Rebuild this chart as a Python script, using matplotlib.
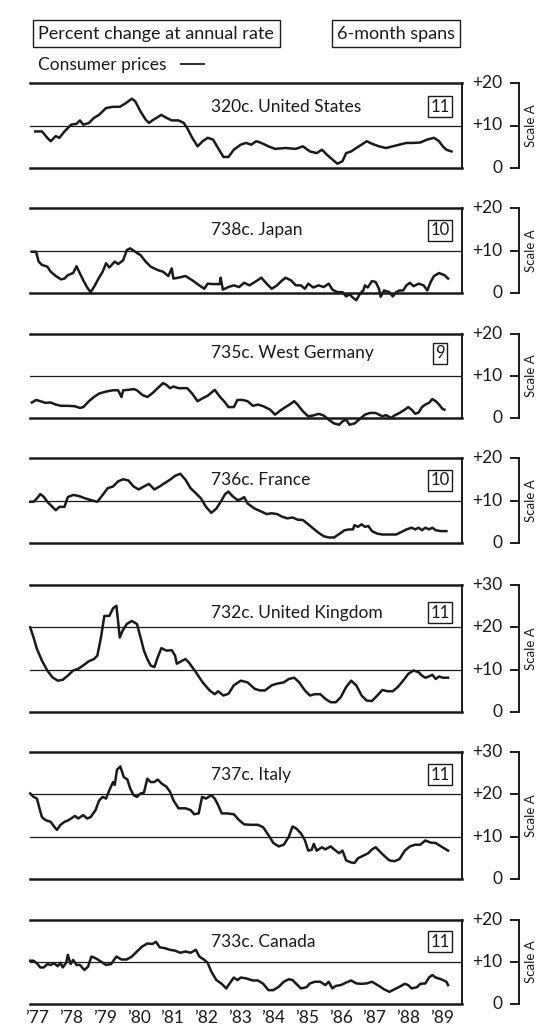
import matplotlib
matplotlib.use("Agg")
import matplotlib.pyplot as plt
import numpy as np
from matplotlib.lines import Line2D

plt.rcParams["font.family"] = ["Lato", "DejaVu Sans"]

# ---- data (months counted from Jan 1977, percent change at annual rate) ----
titles = ["320c. United States", "738c. Japan", "735c. West Germany", "736c. France",
          "732c. United Kingdom", "737c. Italy", "733c. Canada"]
codes = ["11", "10", "9", "10", "11", "11", "11"]
scale_tops = [20, 20, 20, 20, 30, 30, 20]
years = list(range(1977, 1990))
year_labels = ["\u2019%02d" % (y % 100) for y in years]

us_months = [-0.8, 1.6, 3.5, 4.7, 6.5, 7.8, 9.6, 12.0, 13.9, 15.1,
             16.3, 18.3, 20.1, 21.9, 24.4, 26.9, 29.3, 31.1, 33.6, 34.8,
             36.7, 38.5, 39.7, 40.9, 44.1, 45.9, 47.8, 50.2, 52.1, 53.3,
             55.1, 57.0, 58.8, 60.6, 62.5, 64.3, 66.2, 68.0, 69.9, 72.4,
             74.2, 76.1, 77.9, 79.7, 82.2, 84.6, 88.3, 92.0, 94.5, 97.0,
             99.4, 101.3, 103.1, 105.0, 106.8, 108.6, 109.9, 111.7, 113.5, 115.4,
             117.2, 119.1, 121.6, 124.1, 126.5, 128.9, 131.4, 133.9, 136.3, 138.8,
             141.2, 143.0, 144.3, 145.6, 147.4]
us_values = [8.6, 8.6, 7.1, 6.3, 7.5, 7.1, 8.6, 10.2, 10.4, 11.2,
             10.2, 10.6, 11.8, 12.5, 14.1, 14.4, 14.4, 15.1, 16.3, 15.7,
             13.3, 11.4, 10.6, 11.2, 12.5, 11.8, 11.2, 11.2, 10.6, 9.4,
             7.1, 5.1, 6.3, 7.1, 6.7, 4.7, 2.6, 2.6, 4.3, 5.5,
             5.9, 5.5, 6.3, 5.9, 5.1, 4.5, 4.7, 4.5, 5.1, 3.9,
             3.5, 4.3, 3.1, 2.0, 1.0, 1.6, 3.5, 3.9, 4.7, 5.5,
             6.3, 5.7, 5.1, 4.7, 5.1, 5.5, 5.9, 5.9, 6.0, 6.7,
             7.1, 6.3, 5.1, 4.3, 3.9]

jp_months = [-2.0, -0.5, 0.4, 1.6, 3.5, 4.7, 6.5, 8.4, 9.6, 10.8,
             12.7, 13.9, 15.1, 16.3, 17.6, 18.9, 20.1, 21.9, 23.2, 24.4,
             25.6, 27.5, 28.7, 30.5, 31.8, 33.0, 34.8, 36.7, 38.5, 40.3,
             42.8, 44.7, 46.6, 47.8, 48.4, 50.2, 52.7, 55.1, 57.6, 59.4,
             60.6, 62.5, 64.9, 65.2, 66.0, 68.0, 69.9, 71.8, 73.6, 75.5,
             77.9, 79.7, 81.6, 83.4, 85.3, 86.5, 88.3, 90.2, 92.0, 93.8,
             95.2, 96.4, 98.2, 100.1, 101.9, 103.7, 105.0, 106.8, 108.6, 109.9,
             111.1, 112.3, 113.5, 114.8, 116.0, 116.6, 117.6, 119.1, 120.4, 121.6,
             122.2, 123.4, 125.3, 126.5, 127.7, 128.9, 130.2, 131.4, 132.6, 133.9,
             135.7, 137.5, 138.8, 140.0, 141.2, 143.0, 144.9, 146.2]
jp_values = [9.7, 9.7, 7.4, 6.6, 6.2, 5.0, 4.0, 3.2, 3.4, 4.2,
             4.7, 6.3, 4.6, 3.0, 1.4, 0.2, 1.4, 3.6, 5.0, 7.0,
             6.0, 7.4, 6.8, 7.7, 10.1, 10.5, 9.7, 8.9, 7.4, 6.2,
             5.4, 5.0, 4.0, 5.8, 3.4, 3.6, 4.0, 3.0, 1.8, 1.0,
             2.2, 2.1, 2.1, 3.6, 0.8, 1.4, 1.8, 1.4, 2.4, 1.8,
             2.8, 3.6, 2.2, 1.0, 1.8, 2.6, 3.6, 3.0, 1.8, 1.8,
             1.0, 2.2, 1.3, 1.8, 1.4, 2.2, 0.8, 0.2, 0.2, -0.8,
             -0.3, -1.1, -1.7, -0.2, 0.6, 1.8, 1.3, 2.8, 2.6, 1.0,
             -0.9, 0.6, 0.2, -0.8, 0.2, 0.6, 0.6, 1.8, 2.4, 1.6,
             2.2, 1.8, 0.6, 2.6, 4.0, 4.7, 4.2, 3.4]

wg_months = [-2.0, -0.5, 1.0, 2.9, 4.7, 6.5, 8.4, 10.8, 13.3, 15.1,
             16.3, 18.3, 20.1, 21.9, 24.4, 26.9, 28.7, 29.9, 30.5, 32.4,
             34.2, 35.4, 37.3, 39.1, 40.9, 42.8, 44.7, 45.9, 47.2, 48.4,
             50.2, 53.3, 55.1, 57.0, 58.8, 60.6, 63.1, 64.9, 66.8, 68.0,
             69.9, 71.2, 73.0, 74.8, 76.7, 78.5, 80.4, 82.8, 84.6, 86.5,
             88.3, 90.2, 91.4, 92.6, 94.5, 96.4, 98.2, 100.1, 101.9, 103.7,
             105.6, 107.4, 108.6, 109.9, 111.1, 112.9, 114.8, 116.6, 118.4, 120.4,
             121.6, 122.8, 124.1, 125.9, 127.1, 128.9, 130.8, 132.0, 133.2, 134.5,
             135.7, 136.9, 138.1, 139.4, 140.6, 141.8, 143.0, 144.3, 144.9]
wg_values = [3.7, 4.3, 4.0, 3.6, 3.7, 3.2, 2.9, 2.9, 2.8, 2.4,
             2.6, 4.0, 5.0, 5.8, 6.3, 6.6, 6.6, 5.0, 6.6, 6.7,
             6.9, 6.6, 5.5, 5.0, 5.9, 7.1, 8.3, 7.9, 7.1, 7.5,
             7.1, 7.1, 5.8, 4.0, 4.7, 5.3, 6.7, 5.1, 3.7, 2.6,
             2.6, 4.3, 4.3, 4.0, 2.9, 3.2, 2.8, 2.0, 0.8, 1.8,
             2.6, 3.4, 4.0, 3.2, 1.6, 0.4, 0.6, 1.0, 0.6, -0.4,
             -1.3, -1.6, -0.8, -0.4, -1.6, -1.3, -0.2, 0.8, 1.2, 1.2,
             0.8, 0.4, 0.7, 0.0, 0.6, 1.2, 2.0, 2.6, 2.0, 1.0,
             1.3, 2.6, 3.2, 3.6, 4.5, 4.0, 3.2, 2.1, 2.0]

fr_months = [-2.6, -1.4, -0.2, 1.0, 2.2, 3.5, 5.3, 6.5, 7.8, 9.6,
             10.8, 12.7, 14.5, 17.0, 19.5, 21.3, 23.2, 25.0, 26.9, 28.7,
             30.5, 32.4, 34.2, 36.0, 37.9, 39.7, 41.6, 43.5, 45.3, 47.2,
             49.0, 50.8, 52.7, 54.5, 56.4, 58.2, 60.0, 61.9, 63.7, 65.6,
             66.8, 68.0, 69.3, 71.2, 72.4, 73.6, 74.8, 77.3, 79.7, 81.6,
             83.4, 85.3, 87.1, 88.9, 90.8, 92.6, 94.5, 96.4, 98.2, 100.1,
             101.9, 103.7, 105.6, 107.4, 109.3, 111.1, 112.3, 112.9, 114.1, 115.4,
             116.6, 117.8, 119.1, 121.0, 122.8, 125.3, 127.7, 129.6, 131.4, 133.2,
             134.5, 135.7, 136.9, 138.1, 139.4, 140.6, 141.8, 143.7, 145.6]
fr_values = [9.7, 9.7, 10.5, 11.5, 10.9, 9.7, 8.5, 7.7, 8.5, 8.5,
             10.8, 11.3, 11.1, 10.5, 10.0, 9.7, 11.3, 12.9, 13.3, 14.5,
             15.0, 14.7, 13.3, 12.6, 13.3, 13.9, 12.6, 13.3, 14.1, 14.9,
             15.8, 16.3, 14.9, 12.9, 11.7, 10.5, 8.5, 7.1, 8.1, 10.1,
             11.5, 12.1, 11.1, 10.1, 10.3, 10.8, 9.3, 8.1, 7.4, 6.8,
             7.0, 6.8, 6.2, 5.8, 6.0, 5.5, 5.4, 4.4, 3.4, 2.4,
             1.6, 1.3, 1.3, 2.1, 3.0, 3.2, 3.2, 4.2, 3.8, 4.4,
             3.8, 4.0, 2.8, 2.2, 2.0, 2.0, 2.0, 2.6, 3.2, 3.6,
             3.2, 3.6, 3.0, 3.6, 3.2, 3.6, 3.0, 2.8, 2.8]

uk_months = [-2.6, -1.4, -0.2, 1.6, 3.5, 5.3, 7.2, 9.0, 10.8, 12.7,
             14.5, 16.3, 18.3, 20.1, 21.3, 22.6, 23.8, 25.6, 26.9, 28.1,
             29.3, 30.3, 31.8, 33.6, 35.4, 36.7, 37.9, 39.1, 40.3, 41.6,
             42.8, 44.1, 45.9, 47.8, 49.0, 49.6, 51.5, 52.7, 53.9, 56.4,
             58.8, 61.3, 63.1, 64.3, 66.2, 68.0, 69.9, 72.4, 74.8, 77.3,
             79.1, 81.0, 83.4, 85.3, 87.7, 89.5, 91.4, 93.2, 95.2, 97.0,
             98.8, 100.7, 102.5, 104.4, 106.2, 108.0, 109.9, 111.7, 113.5, 115.4,
             117.2, 119.1, 121.0, 122.8, 124.7, 126.5, 128.3, 130.2, 132.0, 133.9,
             135.7, 136.9, 138.1, 139.4, 140.6, 141.8, 143.0, 144.3, 146.2]
uk_values = [20.0, 17.6, 14.9, 12.1, 9.8, 8.2, 7.4, 7.6, 8.6, 9.8,
             10.2, 11.0, 12.0, 12.5, 13.3, 17.6, 22.7, 22.7, 24.5, 25.1,
             17.6, 19.2, 20.8, 21.5, 20.8, 17.6, 14.5, 12.5, 11.0, 10.6,
             12.9, 15.1, 14.5, 14.6, 13.3, 11.4, 12.1, 12.5, 11.7, 9.4,
             7.0, 5.1, 4.2, 4.9, 3.9, 4.3, 6.3, 7.4, 7.0, 5.5,
             5.1, 5.1, 6.3, 6.7, 7.0, 7.8, 8.1, 7.0, 5.1, 3.9,
             4.2, 4.2, 3.1, 2.3, 2.3, 3.5, 5.9, 7.4, 6.3, 3.9,
             2.7, 2.6, 3.9, 5.2, 4.9, 4.9, 5.9, 7.4, 9.0, 9.8,
             9.4, 8.6, 8.1, 8.4, 8.8, 7.8, 8.4, 8.1, 8.1]

it_months = [-2.6, -1.4, -0.2, 0.7, 1.6, 2.9, 4.7, 5.9, 6.9, 8.2,
             9.6, 10.8, 12.0, 13.3, 14.5, 16.3, 17.6, 18.9, 20.7, 21.9,
             23.2, 24.4, 25.6, 26.9, 27.5, 28.3, 29.5, 30.7, 32.0, 33.0,
             34.2, 35.4, 36.7, 37.9, 39.1, 40.3, 41.6, 42.8, 44.1, 45.9,
             47.2, 48.4, 50.2, 52.7, 54.5, 55.8, 57.4, 58.6, 60.0, 61.9,
             63.1, 64.3, 65.6, 67.4, 69.9, 71.8, 73.6, 76.1, 78.5, 80.4,
             82.2, 84.0, 85.9, 87.7, 89.5, 90.8, 92.0, 93.8, 95.2, 96.4,
             97.6, 98.4, 99.4, 101.3, 102.5, 104.4, 105.6, 107.4, 108.6, 109.9,
             111.7, 112.9, 114.1, 116.0, 117.8, 119.1, 120.4, 121.6, 123.4, 125.3,
             127.1, 128.9, 130.8, 132.6, 134.5, 136.3, 138.1, 140.0, 141.8, 143.7,
             146.2]
it_values = [20.2, 19.4, 19.0, 16.7, 14.6, 13.9, 13.5, 12.4, 11.6, 12.8,
             13.5, 13.8, 14.3, 14.9, 14.3, 15.1, 14.3, 14.6, 16.3, 18.5,
             19.4, 19.0, 21.0, 22.9, 22.2, 25.8, 26.6, 24.1, 23.5, 21.4,
             19.8, 19.4, 20.2, 20.4, 23.7, 22.9, 22.9, 23.5, 22.6, 21.8,
             20.6, 18.6, 16.7, 16.7, 16.3, 15.3, 15.5, 19.4, 19.0, 19.8,
             19.0, 17.5, 15.5, 15.5, 15.3, 13.9, 12.9, 12.8, 12.8, 12.2,
             10.4, 8.5, 7.7, 8.1, 10.0, 12.4, 12.0, 10.8, 9.2, 6.7,
             6.9, 8.3, 6.7, 7.5, 7.0, 7.7, 7.0, 6.1, 6.7, 4.4,
             3.9, 3.8, 4.9, 5.5, 6.1, 7.0, 7.5, 6.7, 5.5, 4.4,
             4.2, 4.7, 6.7, 7.7, 8.1, 8.1, 9.1, 8.6, 8.5, 7.7,
             6.7]

ca_months = [-2.6, -1.4, -0.2, 1.0, 2.2, 3.5, 4.7, 5.9, 7.2, 8.2,
             9.0, 10.2, 10.8, 11.8, 12.7, 13.9, 15.1, 16.7, 18.0, 19.2,
             20.7, 22.6, 24.4, 26.2, 28.1, 29.9, 31.8, 33.6, 35.4, 37.3,
             39.1, 40.9, 42.2, 43.5, 45.3, 47.2, 49.0, 50.8, 52.7, 54.5,
             56.4, 57.6, 59.4, 60.6, 61.9, 63.7, 65.6, 67.2, 68.0, 69.9,
             71.2, 72.4, 74.2, 76.7, 78.5, 80.4, 82.2, 84.0, 85.9, 87.7,
             89.5, 90.8, 92.0, 93.8, 95.8, 97.0, 98.8, 100.7, 102.5, 103.7,
             105.0, 106.2, 108.0, 109.9, 111.7, 113.5, 115.4, 117.2, 119.1, 121.6,
             123.4, 125.3, 127.1, 128.9, 130.8, 132.0, 133.2, 135.1, 136.3, 138.1,
             139.4, 140.6, 141.8, 143.7, 145.6, 146.2]
ca_values = [10.3, 10.3, 9.7, 8.7, 8.7, 9.5, 9.3, 9.7, 9.0, 9.8,
             8.7, 9.8, 11.7, 9.5, 10.5, 9.3, 9.3, 8.1, 8.9, 11.3,
             10.9, 10.1, 9.3, 9.5, 11.3, 10.6, 10.6, 11.3, 12.5, 13.7,
             14.4, 14.3, 14.8, 13.5, 13.3, 12.9, 12.7, 12.2, 12.5, 12.2,
             12.9, 11.3, 10.5, 9.8, 7.7, 5.7, 4.8, 3.7, 4.5, 6.3,
             5.7, 6.3, 6.1, 5.6, 5.6, 4.8, 3.3, 3.3, 4.1, 5.3,
             5.9, 5.7, 4.9, 3.7, 4.0, 4.9, 5.3, 5.3, 4.5, 5.3,
             3.7, 4.3, 4.5, 5.1, 5.6, 4.9, 4.8, 4.9, 5.3, 4.3,
             3.5, 2.9, 3.5, 4.1, 4.8, 4.5, 3.7, 4.0, 4.8, 4.9,
             6.3, 6.9, 6.3, 5.9, 5.3, 4.5]

series = [(us_months, us_values), (jp_months, jp_values), (wg_months, wg_values),
          (fr_months, fr_values), (uk_months, uk_values), (it_months, it_values),
          (ca_months, ca_values)]

# ---- layout (pixels on a 540 x 1027 canvas) ----
W, H = 540, 1027
BOX_L, BOX_R = 30, 462
panel_px = [(83, 168), (208, 293), (334, 418), (458, 543), (585, 712), (752, 879), (920, 1004)]
title_y = [0.72, 0.74, 0.77, 0.74, 0.78, 0.82, 0.74]
XMIN = 1977 + (BOX_L - 37.5) / 33.7
XMAX = 1977 + (BOX_R - 37.5) / 33.7
ink = "#1a1a1a"

fig = plt.figure(figsize=(W / 100, H / 100), dpi=100)
fig.patch.set_facecolor("white")


def frac_x(px):
    return (px - BOX_L) / (BOX_R - BOX_L)


for i, (months, values) in enumerate(series):
    top, bot = panel_px[i]
    ax = fig.add_axes([BOX_L / W, 1 - bot / H, (BOX_R - BOX_L) / W, (bot - top) / H])
    t = 1977 + np.array(months) / 12.0
    ax.plot(t, values, color=ink, lw=1.8, clip_on=False, solid_joinstyle="round")
    ax.set_xlim(XMIN, XMAX)
    ax.set_ylim(0, scale_tops[i])
    for v in range(10, scale_tops[i], 10):
        ax.axhline(v, color=ink, lw=0.9)
    ax.spines["left"].set_visible(False)
    ax.spines["top"].set_linewidth(1.8)
    ax.spines["bottom"].set_linewidth(1.8)
    ax.spines["right"].set_linewidth(1.4)
    for s in ax.spines.values():
        s.set_color(ink)
    ax.set_yticks([])
    ax.set_facecolor("none")

    ax.text(frac_x(211), title_y[i], titles[i], transform=ax.transAxes,
            ha="left", va="center", fontsize=12.5, color=ink)
    ax.text(frac_x(440), title_y[i], codes[i], transform=ax.transAxes,
            ha="center", va="center", fontsize=12, color=ink,
            bbox=dict(boxstyle="square,pad=0.15", fc="white", ec=ink, lw=1.0))

    # right-hand scale bracket
    tr = ax.get_yaxis_transform()
    for v in range(0, scale_tops[i] + 1, 10):
        lab = "0" if v == 0 else "+%d" % v
        ax.text(frac_x(502), v, lab, transform=tr, ha="right", va="center",
                fontsize=12.5, color=ink, clip_on=False)
        ax.add_line(Line2D([frac_x(511), frac_x(519)], [v, v], transform=tr,
                           color=ink, lw=1.4, clip_on=False))
    ax.add_line(Line2D([frac_x(519), frac_x(519)], [0, scale_tops[i]], transform=tr,
                       color=ink, lw=1.4, clip_on=False))
    fig.text(525 / W, 1 - (top + bot) / 2 / H, "Scale A", rotation=90,
             ha="left", va="center", fontsize=9.5, color=ink)

    if i == len(series) - 1:
        ax.set_xticks(years)
        ax.set_xticklabels(year_labels, fontsize=12.5, color=ink)
        ax.tick_params(axis="x", length=0, pad=4)
    else:
        ax.set_xticks([])

# header
fig.text(38.5 / W, 1 - 33.5 / H, "Percent change at annual rate", ha="left", va="center",
         fontsize=13, color=ink,
         bbox=dict(boxstyle="square,pad=0.3", fc="white", ec=ink, lw=1.0))
fig.text(337 / W, 1 - 33.5 / H, "6-month spans", ha="left", va="center",
         fontsize=13, color=ink,
         bbox=dict(boxstyle="square,pad=0.3", fc="white", ec=ink, lw=1.0))
fig.text(38.5 / W, 1 - 65 / H, "Consumer prices", ha="left", va="center",
         fontsize=12.5, color=ink)
fig.add_artist(Line2D([181 / W, 204 / W], [1 - 64 / H, 1 - 64 / H],
                      transform=fig.transFigure, color=ink, lw=1.3))

fig.savefig("out.png", dpi=100, facecolor="white")
